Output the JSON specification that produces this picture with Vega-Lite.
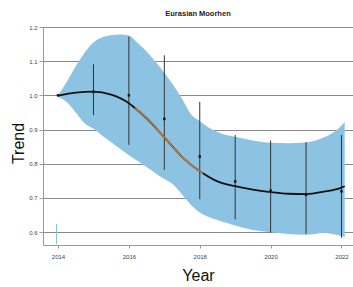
{
  "$schema": "https://vega.github.io/schema/vega-lite/v6.json",
  "width": 310,
  "height": 218,
  "autosize": {"type": "none"},
  "padding": {"left": 43, "top": 27, "right": 0, "bottom": 42},
  "background": "white",
  "title": {"text": "Eurasian Moorhen", "fontSize": 7.5, "font": "Liberation Sans", "fontWeight": "bold", "color": "#222", "anchor": "middle", "offset": 7},
  "config": {
    "view": {"stroke": null},
    "axis": {"zindex": 1, "labelFont": "Liberation Sans", "titleFont": "Liberation Sans", "labelFontSize": 6, "labelColor": "#444", "titleFontSize": 16, "titleFontWeight": "normal", "titleColor": "#111", "domainColor": "#9a9a9a", "tickColor": "#9a9a9a", "gridColor": "#8a8a8a", "gridWidth": 1.2, "labelOverlap": false}
  },
  "datasets": {
    "band": [
      {"year": 2014.0, "lo": 0.995, "hi": 1.0},
      {"year": 2014.25, "lo": 0.98, "hi": 1.04},
      {"year": 2014.5, "lo": 0.95, "hi": 1.085},
      {"year": 2014.75, "lo": 0.918, "hi": 1.125},
      {"year": 2015.0, "lo": 0.902, "hi": 1.155},
      {"year": 2015.25, "lo": 0.882, "hi": 1.17},
      {"year": 2015.5, "lo": 0.863, "hi": 1.176},
      {"year": 2015.75, "lo": 0.844, "hi": 1.178},
      {"year": 2016.0, "lo": 0.825, "hi": 1.175},
      {"year": 2016.25, "lo": 0.808, "hi": 1.153},
      {"year": 2016.5, "lo": 0.79, "hi": 1.128},
      {"year": 2016.75, "lo": 0.772, "hi": 1.098},
      {"year": 2017.0, "lo": 0.755, "hi": 1.066},
      {"year": 2017.25, "lo": 0.739, "hi": 1.03},
      {"year": 2017.5, "lo": 0.71, "hi": 0.99},
      {"year": 2017.75, "lo": 0.68, "hi": 0.945},
      {"year": 2018.0, "lo": 0.657, "hi": 0.925},
      {"year": 2018.25, "lo": 0.644, "hi": 0.906},
      {"year": 2018.5, "lo": 0.635, "hi": 0.893},
      {"year": 2018.75, "lo": 0.627, "hi": 0.884},
      {"year": 2019.0, "lo": 0.619, "hi": 0.879},
      {"year": 2019.5, "lo": 0.606, "hi": 0.868},
      {"year": 2020.0, "lo": 0.599, "hi": 0.861},
      {"year": 2020.5, "lo": 0.594, "hi": 0.86},
      {"year": 2021.0, "lo": 0.592, "hi": 0.862},
      {"year": 2021.25, "lo": 0.594, "hi": 0.867},
      {"year": 2021.5, "lo": 0.598, "hi": 0.877},
      {"year": 2021.75, "lo": 0.594, "hi": 0.89},
      {"year": 2022.0, "lo": 0.588, "hi": 0.912},
      {"year": 2022.09, "lo": 0.585, "hi": 0.923}
    ],
    "curve": [
      {"year": 2014.0, "trend": 0.999},
      {"year": 2014.5, "trend": 1.008},
      {"year": 2015.0, "trend": 1.011},
      {"year": 2015.5, "trend": 1.002},
      {"year": 2016.0, "trend": 0.977},
      {"year": 2016.17, "trend": 0.963},
      {"year": 2016.5, "trend": 0.933},
      {"year": 2017.0, "trend": 0.877},
      {"year": 2017.5, "trend": 0.82},
      {"year": 2017.81, "trend": 0.792},
      {"year": 2018.09, "trend": 0.772},
      {"year": 2018.5, "trend": 0.748},
      {"year": 2019.0, "trend": 0.734},
      {"year": 2019.5, "trend": 0.724},
      {"year": 2020.0, "trend": 0.717},
      {"year": 2020.5, "trend": 0.712},
      {"year": 2021.0, "trend": 0.711},
      {"year": 2021.5, "trend": 0.718},
      {"year": 2022.0, "trend": 0.73},
      {"year": 2022.09, "trend": 0.734}
    ],
    "segment": [
      {"year": 2016.17, "trend": 0.963},
      {"year": 2016.5, "trend": 0.933},
      {"year": 2017.0, "trend": 0.877},
      {"year": 2017.5, "trend": 0.82},
      {"year": 2017.81, "trend": 0.792},
      {"year": 2018.09, "trend": 0.772}
    ],
    "obs": [
      {"year": 2014, "value": 1.0},
      {"year": 2015, "value": 1.01, "lo": 0.942, "hi": 1.091},
      {"year": 2016, "value": 1.0, "lo": 0.855, "hi": 1.172},
      {"year": 2017, "value": 0.931, "lo": 0.782, "hi": 1.117},
      {"year": 2018, "value": 0.821, "lo": 0.696, "hi": 0.981},
      {"year": 2019, "value": 0.748, "lo": 0.637, "hi": 0.884},
      {"year": 2020, "value": 0.721, "lo": 0.598, "hi": 0.868},
      {"year": 2021, "value": 0.709, "lo": 0.595, "hi": 0.863},
      {"year": 2022, "value": 0.719, "lo": 0.583, "hi": 0.884}
    ],
    "marker": [
      {"year": 2013.96, "lo": 0.565, "hi": 0.624}
    ]
  },
  "layer": [
    {
      "data": {"name": "band"},
      "mark": {"type": "area", "color": "#8dc3e2", "opacity": 1, "interpolate": "monotone"},
      "encoding": {
        "x": {"field": "year", "type": "quantitative", "scale": {"domain": [2013.576, 2022.325], "nice": false, "zero": false},
              "axis": {"title": "Year", "values": [2014, 2016, 2018, 2020, 2022], "tickCount": 20, "format": "d", "grid": false, "tickSize": 3, "labelPadding": 5, "titleY": 35, "titleBaseline": "alphabetic"}},
        "y": {"field": "lo", "type": "quantitative", "scale": {"domain": [0.562, 1.2], "nice": false, "zero": false},
              "axis": {"title": "Trend", "values": [0.6, 0.7, 0.8, 0.9, 1.0, 1.1, 1.2], "tickCount": 20, "format": ".1f", "grid": true, "tickSize": 4, "labelPadding": 2, "titleX": -20, "titleY": 116, "titleAngle": -90, "titleAlign": "center", "titleBaseline": "alphabetic"}},
        "y2": {"field": "hi"}
      }
    },
    {
      "data": {"name": "marker"},
      "mark": {"type": "rule", "color": "#7cc8b4", "strokeWidth": 1},
      "encoding": {
        "x": {"field": "year", "type": "quantitative"},
        "y": {"field": "lo", "type": "quantitative"},
        "y2": {"field": "hi"}
      }
    },
    {
      "data": {"name": "obs"},
      "mark": {"type": "rule", "color": "#333333", "strokeWidth": 1},
      "encoding": {
        "x": {"field": "year", "type": "quantitative"},
        "y": {"field": "lo", "type": "quantitative"},
        "y2": {"field": "hi"}
      }
    },
    {
      "data": {"name": "curve"},
      "mark": {"type": "line", "color": "#111111", "strokeWidth": 1.8, "interpolate": "monotone"},
      "encoding": {
        "x": {"field": "year", "type": "quantitative"},
        "y": {"field": "trend", "type": "quantitative"}
      }
    },
    {
      "data": {"name": "segment"},
      "mark": {"type": "line", "color": "#c27a40", "strokeWidth": 1.6, "interpolate": "monotone"},
      "encoding": {
        "x": {"field": "year", "type": "quantitative"},
        "y": {"field": "trend", "type": "quantitative"}
      }
    },
    {
      "data": {"name": "obs"},
      "mark": {"type": "point", "shape": "square", "filled": true, "color": "#111111", "size": 6, "opacity": 1},
      "encoding": {
        "x": {"field": "year", "type": "quantitative"},
        "y": {"field": "value", "type": "quantitative"}
      }
    }
  ]
}
